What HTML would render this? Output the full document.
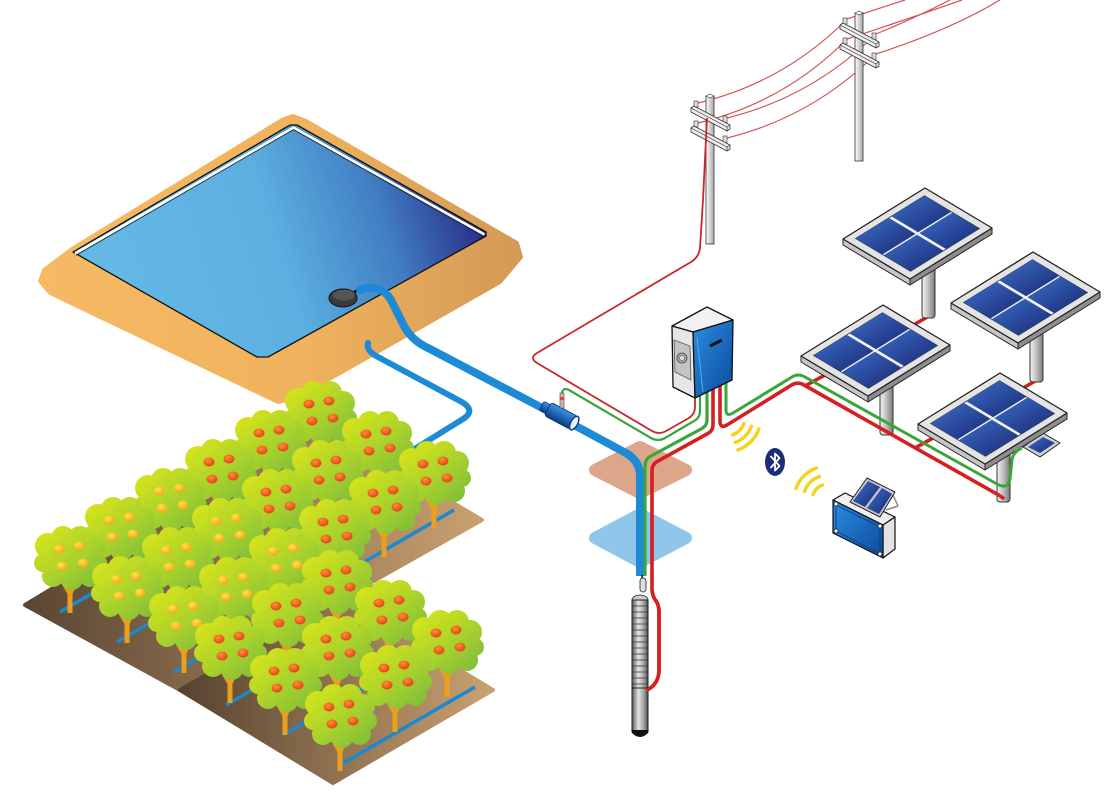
<!DOCTYPE html>
<html><head><meta charset="utf-8"><style>html,body{margin:0;padding:0;background:#fff}svg{display:block}</style></head>
<body>
<svg width="1109" height="800" viewBox="0 0 1109 800" xmlns="http://www.w3.org/2000/svg">
<defs>
<linearGradient id="sand" gradientUnits="userSpaceOnUse" x1="40" y1="0" x2="522" y2="0"><stop offset="0" stop-color="#f6b964"/><stop offset="0.55" stop-color="#f0b25d"/><stop offset="1" stop-color="#d39a56"/></linearGradient>
<linearGradient id="water" gradientUnits="userSpaceOnUse" x1="130" y1="320" x2="475" y2="210"><stop offset="0" stop-color="#64b8e4"/><stop offset="0.45" stop-color="#5cafe0"/><stop offset="0.75" stop-color="#417ec2"/><stop offset="1" stop-color="#2a2e8a"/></linearGradient>
<linearGradient id="soilU" gradientUnits="userSpaceOnUse" x1="25" y1="0" x2="482" y2="0"><stop offset="0" stop-color="#5a4634"/><stop offset="1" stop-color="#c9a070"/></linearGradient>
<linearGradient id="soilL" gradientUnits="userSpaceOnUse" x1="180" y1="0" x2="493" y2="0"><stop offset="0" stop-color="#56422f"/><stop offset="1" stop-color="#caa272"/></linearGradient>
<linearGradient id="cg" gradientUnits="userSpaceOnUse" x1="-25" y1="-30" x2="25" y2="30"><stop offset="0" stop-color="#d8e41b"/><stop offset="0.55" stop-color="#a9d22c"/><stop offset="1" stop-color="#80be38"/></linearGradient>
<radialGradient id="fo" cx="0.4" cy="0.35" r="0.7"><stop offset="0" stop-color="#ff9430"/><stop offset="1" stop-color="#e3381a"/></radialGradient>
<radialGradient id="fy" cx="0.4" cy="0.35" r="0.7"><stop offset="0" stop-color="#ffe845"/><stop offset="1" stop-color="#f4a01a"/></radialGradient>
<linearGradient id="cell" x1="0" y1="0" x2="1" y2="1"><stop offset="0" stop-color="#3b70cc"/><stop offset="1" stop-color="#1a2670"/></linearGradient>
<linearGradient id="postg" x1="0" y1="0" x2="1" y2="0"><stop offset="0" stop-color="#f4f4f4"/><stop offset="0.5" stop-color="#bdbdbd"/><stop offset="1" stop-color="#7a7a7a"/></linearGradient>
<linearGradient id="poleg" x1="0" y1="0" x2="1" y2="0"><stop offset="0" stop-color="#ffffff"/><stop offset="1" stop-color="#a8a8a8"/></linearGradient>
<linearGradient id="boxblue" x1="0" y1="0" x2="1" y2="1"><stop offset="0" stop-color="#2b8de2"/><stop offset="1" stop-color="#0c4a9c"/></linearGradient>
<linearGradient id="pumpg" x1="0" y1="0" x2="1" y2="0"><stop offset="0" stop-color="#555"/><stop offset="0.4" stop-color="#e6e6e6"/><stop offset="0.75" stop-color="#a0a0a0"/><stop offset="1" stop-color="#4a4a4a"/></linearGradient>
<linearGradient id="filtg" x1="0" y1="0" x2="0" y2="1"><stop offset="0" stop-color="#3d95e3"/><stop offset="1" stop-color="#0a3b85"/></linearGradient>

<g id="can" fill="url(#cg)">
<ellipse cx="0" cy="1" rx="30" ry="25"/>
<circle cx="-22" cy="-12" r="13"/>
<circle cx="-7" cy="-20" r="12"/>
<circle cx="10" cy="-20" r="12"/>
<circle cx="23" cy="-10" r="12"/>
<circle cx="28" cy="5" r="9"/>
<circle cx="20" cy="18" r="11"/>
<circle cx="2" cy="21" r="11"/>
<circle cx="-17" cy="18" r="11"/>
<circle cx="-27" cy="5" r="9"/>
</g>
<path id="trunk" d="M -2.5 55 L -2.5 36 L -9 25 L -6 23 L 0 32 L 5 22 L 8 24 L 2.5 36 L 2.5 55 Z" fill="#eaa01c"/>
<g id="tO"><use href="#trunk"/><use href="#can"/>
<ellipse cx="-11" cy="-9" rx="5.5" ry="4.5" fill="url(#fo)"/><ellipse cx="9" cy="-12" rx="5.5" ry="4.5" fill="url(#fo)"/><ellipse cx="-8" cy="8" rx="5.5" ry="4.5" fill="url(#fo)"/><ellipse cx="13" cy="5" rx="5.5" ry="4.5" fill="url(#fo)"/></g>
<g id="tY"><use href="#trunk"/><use href="#can"/>
<ellipse cx="-11" cy="-9" rx="5.5" ry="4.5" fill="url(#fy)"/><ellipse cx="9" cy="-12" rx="5.5" ry="4.5" fill="url(#fy)"/><ellipse cx="-8" cy="8" rx="5.5" ry="4.5" fill="url(#fy)"/><ellipse cx="13" cy="5" rx="5.5" ry="4.5" fill="url(#fy)"/></g>

<g id="panel">
<polygon points="-82,51 -15,91 -15,97 -82,57" fill="#c6c6c6" stroke="#222" stroke-width="1" stroke-linejoin="round"/>
<polygon points="-15,91 67,40 67,46 -15,97" fill="#8d8d8d" stroke="#222" stroke-width="1" stroke-linejoin="round"/>
<polygon points="0,0 67,40 -15,91 -82,51" fill="#e4e4e4" stroke="#222" stroke-width="1.3" stroke-linejoin="round"/>
<polygon points="-0.5,7.7 54.4,40.5 -14.5,83.3 -69.4,50.5" fill="#f2f2f2" stroke="#333" stroke-width="0.8"/>
<polygon points="-0.5,7.7 26.3,23.7 -6.9,44.3 -33.7,28.3" fill="url(#cell)"/>
<polygon points="27.6,24.5 54.4,40.5 21.2,61.1 -5.6,45.1" fill="url(#cell)"/>
<polygon points="-36.2,29.9 -9.4,45.9 -42.6,66.5 -69.4,50.5" fill="url(#cell)"/>
<polygon points="-8.1,46.7 18.7,62.7 -14.5,83.3 -41.3,67.3" fill="url(#cell)"/>
</g>
<g id="post"><rect x="-3" y="70" width="13" height="60" rx="3" fill="url(#postg)" stroke="#333" stroke-width="1"/></g>

<g id="pole">
<rect x="-4" y="0" width="8" height="148" fill="url(#poleg)" stroke="#333" stroke-width="0.8"/>
<polygon points="-4,0 0,-2 4,0 0,2" fill="#fff" stroke="#333" stroke-width="0.6"/>
<rect x="-16" y="5" width="4" height="6" fill="#ddd" stroke="#333" stroke-width="0.6"/>
<rect x="13" y="20" width="4" height="7" fill="#ddd" stroke="#333" stroke-width="0.6"/>
<polygon points="-19,12 -16,10 20,29 20,33 17,35 -19,16" fill="#eee" stroke="#333" stroke-width="0.8" stroke-linejoin="round"/>
<polyline points="-19,12 17,31 20,29" fill="none" stroke="#333" stroke-width="0.7"/>
<line x1="17" y1="31" x2="17" y2="35" stroke="#333" stroke-width="0.7"/>
<rect x="-16" y="25" width="4" height="6" fill="#ddd" stroke="#333" stroke-width="0.6"/>
<rect x="13" y="40" width="4" height="7" fill="#ddd" stroke="#333" stroke-width="0.6"/>
<polygon points="-19,32 -16,30 20,49 20,53 17,55 -19,36" fill="#eee" stroke="#333" stroke-width="0.8" stroke-linejoin="round"/>
<polyline points="-19,32 17,51 20,49" fill="none" stroke="#333" stroke-width="0.7"/>
<line x1="17" y1="51" x2="17" y2="55" stroke="#333" stroke-width="0.7"/>
</g>
</defs>

<!-- power lines -->
<g fill="none" stroke="#d05555" stroke-width="1.2">
<path d="M 698 103 Q 785 82 847 19"/>
<path d="M 727 118 Q 812 97 876 34"/>
<path d="M 698 123 Q 785 102 847 39"/>
<path d="M 727 138 Q 812 117 876 54"/>
<path d="M 847 19 Q 880 8 905 0"/>
<path d="M 876 34 Q 915 18 950 0"/>
<path d="M 847 39 Q 905 20 962 0"/>
<path d="M 876 54 Q 950 30 1000 0"/>
</g>
<use href="#pole" x="710" y="96"/>
<use href="#pole" x="859" y="13"/>

<!-- colored squares -->
<polygon points="595,470 640,447 686,470 640,493" fill="#dba68a" stroke="#dba68a" stroke-width="12" stroke-linejoin="round"/>
<polygon points="595,538 640,514 686,538 640,562" fill="#8fc6ea" stroke="#8fc6ea" stroke-width="12" stroke-linejoin="round"/>

<!-- grid drop line -->
<path d="M 707 118 L 703 200 L 700 248 Q 699 257 691 262 L 537 353 Q 529 358 537 363 L 652 431 Q 659 435 666 431 L 689 418 Q 695 414 695 407 L 695 394" fill="none" stroke="#c8262b" stroke-width="1.8"/>

<!-- pond -->
<polygon points="293,116 306,121 517,243 521,257 500,282 296,398 278,402 50,293 40,281 44,270 72,249 282,120" fill="url(#sand)" stroke="url(#sand)" stroke-width="4" stroke-linejoin="round"/>
<polygon points="73,252 290,125 297,125 486,232 486,236 268,357 257,357" fill="url(#water)" stroke="#111" stroke-width="1.3" stroke-linejoin="round"/>
<polyline points="75,253.5 293.5,127.6 484.5,234.5" fill="none" stroke="#fff" stroke-width="2.6"/>
<polyline points="76,255.3 293.5,129.6 483,236.3" fill="none" stroke="#222" stroke-width="0.8"/>
<line x1="354" y1="292" x2="362" y2="289" stroke="#111" stroke-width="3"/>
<ellipse cx="343" cy="298" rx="14" ry="9" fill="#3a3a3a" stroke="#111" stroke-width="1"/>
<ellipse cx="344" cy="295" rx="11" ry="5.5" fill="#565656"/>

<!-- pipes -->
<path d="M 360 290 Q 380 282 391 300 L 404 326 Q 412 341 430 349 L 548 411" stroke="#1d8ad6" stroke-width="8" fill="none" stroke-linecap="round"/>
<path d="M 368 343 Q 366 351 378 357 L 460 401 Q 477 410 463 419 L 413 450" stroke="#1d8ad6" stroke-width="6" fill="none" stroke-linecap="round"/>

<!-- field soil -->
<polygon points="25,605 322,425 482,520 180,690" fill="url(#soilU)" stroke="url(#soilU)" stroke-width="4" stroke-linejoin="round"/>
<polygon points="180,690 340,598 493,690 333,783" fill="url(#soilL)" stroke="url(#soilL)" stroke-width="4" stroke-linejoin="round"/>
<g stroke="#1b88d0" stroke-width="3.5" fill="none">
<line x1="340" y1="450" x2="60" y2="612"/>
<line x1="397" y1="480" x2="117" y2="642"/>
<line x1="454" y1="510" x2="174" y2="672"/>
<line x1="361" y1="627" x2="226" y2="705"/>
<line x1="418" y1="657" x2="283" y2="735"/>
<line x1="475" y1="687" x2="340" y2="765"/>
</g>

<!-- trees -->
<use href="#tO" x="320" y="413"/>
<use href="#tO" x="270" y="442"/>
<use href="#tO" x="377" y="443"/>
<use href="#tO" x="220" y="471"/>
<use href="#tO" x="327" y="472"/>
<use href="#tO" x="434" y="473"/>
<use href="#tY" x="170" y="500"/>
<use href="#tO" x="277" y="501"/>
<use href="#tO" x="384" y="502"/>
<use href="#tY" x="120" y="529"/>
<use href="#tY" x="227" y="530"/>
<use href="#tO" x="334" y="531"/>
<use href="#tY" x="70" y="558"/>
<use href="#tY" x="177" y="559"/>
<use href="#tY" x="284" y="560"/>
<use href="#tO" x="337" y="582"/>
<use href="#tY" x="127" y="588"/>
<use href="#tY" x="234" y="589"/>
<use href="#tO" x="390" y="612"/>
<use href="#tO" x="287" y="615"/>
<use href="#tY" x="184" y="618"/>
<use href="#tO" x="447" y="642"/>
<use href="#tO" x="230" y="648"/>
<use href="#tO" x="337" y="648"/>
<use href="#tO" x="395" y="677"/>
<use href="#tO" x="285" y="680"/>
<use href="#tO" x="340" y="716"/>

<!-- main pipe to well -->
<path d="M 574 425 L 624 452 Q 640 460 640 476 L 640 576" stroke="#1d8ad6" stroke-width="8" fill="none"/>

<!-- cables -->
<path d="M 562 402 L 562 393 Q 563 387 569 390 L 651 438 Q 658 442 665 438 L 694 421 Q 700 418 700 411 L 700 392" fill="none" stroke="#3aa63a" stroke-width="2.2"/>
<path d="M 707 390 L 707 420 Q 707 426 701 429 L 651 456 Q 645 459 645 466 L 645 576" fill="none" stroke="#3aa63a" stroke-width="3.2"/>
<path d="M 713 388 L 713 425 Q 713 431 707 434 L 658 461 Q 652 464 652 471 L 652 588 Q 652 596 656 601 Q 659 605 659 612 L 659 670 Q 659 684 647 690" fill="none" stroke="#d42020" stroke-width="3.6"/>

<!-- filter -->
<g transform="translate(561,416) rotate(28)">
<rect x="-22" y="-5" width="9" height="10" rx="2" fill="url(#filtg)" stroke="#0a2f6a" stroke-width="0.8"/>
<rect x="-15" y="-7.5" width="30" height="15" rx="3" fill="url(#filtg)" stroke="#0a2f6a" stroke-width="0.8"/>
<ellipse cx="15" cy="0" rx="3.5" ry="7.5" fill="#e8eef5" stroke="#0a3f80" stroke-width="1.5"/>
</g>
<rect x="560" y="393" width="4" height="15" fill="#bbb" stroke="#444" stroke-width="0.6"/>
<rect x="560" y="397" width="4" height="3" fill="#d44"/>

<!-- solar cables -->
<g stroke="#d42020" stroke-width="3.6" fill="none">
<line x1="805" y1="386" x2="836" y2="369"/>
<line x1="915" y1="448" x2="942" y2="433"/>
<line x1="929" y1="316" x2="910" y2="327"/>
<line x1="1037" y1="380" x2="1018" y2="391"/>
</g>

<!-- panels -->
<use href="#post" x="925" y="188"/>
<use href="#panel" x="925" y="188"/>
<use href="#post" x="1033" y="252"/>
<use href="#panel" x="1033" y="252"/>
<use href="#post" x="883" y="305"/>
<use href="#panel" x="883" y="305"/>
<use href="#post" x="1000" y="372"/>
<polygon points="1023,447 1043,433 1060,443 1040,457" fill="#d0d0d0" stroke="#222" stroke-width="1" stroke-linejoin="round"/>
<polygon points="1028,447 1043,437 1055,443 1040,453" fill="url(#cell)"/>
<use href="#panel" x="1000" y="373"/>

<path d="M 720 384 L 720 421 Q 720 429 727 425 L 790 386 Q 797 381 804 385 L 997 494 Q 1002 497 1004 499" fill="none" stroke="#d42020" stroke-width="3.6"/>
<path d="M 726 381 L 726 410 Q 726 417 733 413 L 792 377 Q 798 373 805 377 L 997 484 Q 1008 490 1010 479 L 1012 460 Q 1013 452 1022 448" fill="none" stroke="#3aa63a" stroke-width="3"/>

<!-- inverter -->
<polygon points="672,326 707,307 733,320 693,332" fill="#f2f2f2" stroke="#111" stroke-width="1.3" stroke-linejoin="round"/>
<polygon points="672,326 693,332 695,398 673,387" fill="#e6e6e6" stroke="#111" stroke-width="1.3" stroke-linejoin="round"/>
<polygon points="674,340 690,346 691,380 675,372" fill="#c4c4c4" stroke="#555" stroke-width="0.8"/>
<circle cx="682" cy="358" r="5" fill="#aaa" stroke="#444" stroke-width="0.8"/>
<circle cx="682" cy="358" r="2.5" fill="#ddd" stroke="#444" stroke-width="0.5"/>
<polygon points="693,332 733,320 732,380 695,398" fill="url(#boxblue)" stroke="#111" stroke-width="1.3" stroke-linejoin="round"/>
<line x1="697" y1="337" x2="703" y2="392" stroke="#5aaaf0" stroke-width="1"/>
<line x1="710" y1="346" x2="722" y2="340" stroke="#111" stroke-width="3"/>

<!-- wireless -->
<g fill="none" stroke="#f5d21e" stroke-width="3.5" stroke-linecap="round">
<path d="M 743.9 423.5 A 19 19 0 0 1 732.5 434.9"/>
<path d="M 751.4 426.2 A 27 27 0 0 1 735.2 442.4"/>
<path d="M 758.9 429 A 35 35 0 0 1 738 449.9"/>
<path d="M 813 494.5 A 16 16 0 0 1 822.5 485"/>
<path d="M 804.5 491.4 A 25 25 0 0 1 819.5 476.5"/>
<path d="M 796 488.4 A 34 34 0 0 1 816.4 468"/>
</g>
<ellipse cx="775" cy="462" rx="10" ry="14" fill="#1b2d78"/>
<path d="M 770.5 456 L 779.5 466 L 775 470.5 L 775 453.5 L 779.5 458 L 770.5 468" fill="none" stroke="#fff" stroke-width="1.8" stroke-linejoin="round"/>

<!-- sensor device -->
<polygon points="833,500 845,493 895,517 883,525" fill="#f0f0f0" stroke="#111" stroke-width="1.2" stroke-linejoin="round"/>
<polygon points="883,525 895,517 895,549 883,558" fill="#e2e2e2" stroke="#111" stroke-width="1.2" stroke-linejoin="round"/>
<polygon points="833,500 883,525 883,558 833,533" fill="url(#boxblue)" stroke="#111" stroke-width="1.2" stroke-linejoin="round"/>
<polygon points="836,505 880,527 880,554 836,531" fill="none" stroke="#0a3a7a" stroke-width="0.8"/>
<g fill="#fff" stroke="#111" stroke-width="0.7"><circle cx="836" cy="504" r="2"/><circle cx="880" cy="526" r="2"/><circle cx="880" cy="554" r="2"/><circle cx="836" cy="531" r="2"/></g>
<line x1="886" y1="510" x2="898" y2="506" stroke="#888" stroke-width="1.5"/>
<line x1="893" y1="495" x2="898" y2="506" stroke="#888" stroke-width="1.5"/>
<polygon points="850,502 867,478 895,492 880,517" fill="#c8c8c8" stroke="#222" stroke-width="1" stroke-linejoin="round"/>
<polygon points="853,501 868,481 880,487 865,507" fill="url(#cell)"/>
<polygon points="867,508 882,488 892,494 879,514" fill="url(#cell)"/>

<!-- pump -->
<line x1="642" y1="575" x2="642" y2="579" stroke="#111" stroke-width="1.5"/>
<rect x="640" y="578" width="6" height="14" rx="3" fill="#ddd" stroke="#222" stroke-width="0.8"/>
<ellipse cx="640" cy="600" rx="8" ry="5" fill="#ccc" stroke="#222" stroke-width="0.8"/>
<rect x="632" y="600" width="16" height="88" fill="url(#pumpg)" stroke="#222" stroke-width="1"/>
<path d="M 632 606 h16 M 632 612 h16 M 632 618 h16 M 632 624 h16 M 632 630 h16 M 632 636 h16 M 632 642 h16 M 632 648 h16 M 632 654 h16 M 632 660 h16 M 632 666 h16 M 632 672 h16 M 632 678 h16 M 632 684 h16" stroke="#333" stroke-width="0.8"/>
<rect x="632" y="688" width="16" height="44" fill="url(#pumpg)" stroke="#222" stroke-width="1"/>
<path d="M 632 730 L 648 730 L 648 733 Q 640 741 632 733 Z" fill="#111"/>
<path d="M 652 588 Q 652 596 656 601 Q 659 605 659 612 L 659 670 Q 659 684 647 690" fill="none" stroke="#d42020" stroke-width="3.6"/>
</svg>
</body></html>
